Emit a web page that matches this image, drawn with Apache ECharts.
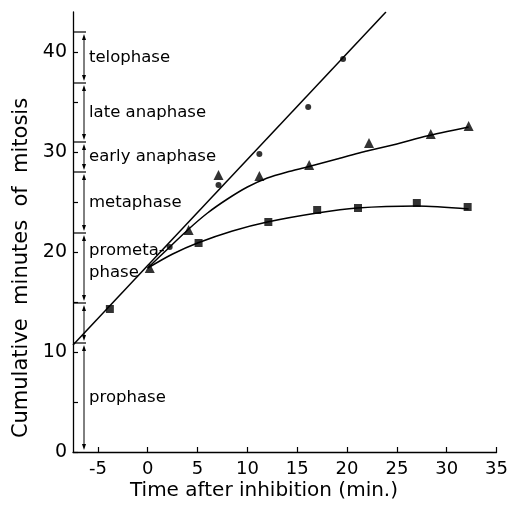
<!DOCTYPE html>
<html>
<head>
<meta charset="utf-8">
<script src="https://cdn.jsdelivr.net/npm/echarts@6/dist/echarts.min.js"></script>
<style>
  html, body { margin: 0; padding: 0; background: #fff; }
  #chart { width: 511px; height: 506px; }
</style>
</head>
<body>
<div id="chart"></div>
<script>
// measured points
const circlePts = [[2.2, 20.5], [7.1, 26.7], [11.2, 29.8], [16.1, 34.5], [19.6, 39.3]]
const trianglePts = [[0.2, 18.4], [4.1, 22.2], [7.1, 27.7], [11.2, 27.6], [16.2, 28.7], [22.2, 30.9], [28.4, 31.8], [32.2, 32.6]]
const squarePts = [[-3.8, 14.3], [5.1, 20.9], [12.1, 23.0], [17.0, 24.2], [21.1, 24.4], [27.0, 24.9], [32.1, 24.5]]

// drawn-by-hand fit curves
const straightFit = [[-7.5, 10.7], [23.9, 44]]
const triangleFit = [[0, 18.4], [2, 20.3], [4, 22.2], [6, 23.9], [8, 25.3], [10, 26.5], [12, 27.4], [14, 28.0], [16, 28.5], [19, 29.3], [22, 30.1], [25, 30.8], [28, 31.6], [32.2, 32.5]]
const squareFit = [[0, 18.4], [2.5, 19.8], [5, 20.9], [8.5, 22.1], [12, 23.0], [17, 23.9], [21, 24.4], [27, 24.6], [32.2, 24.3]]

// phases along the y axis
const phaseBounds = [0, 10.9, 14.9, 21.9, 28.0, 31.0, 36.9, 42.0]
const phaseNames = ['prophase', '', 'prometa-\nphase', 'metaphase', 'early anaphase', 'late anaphase', 'telophase']

const xTicks = [-5, 0, 5, 10, 15, 20, 25, 30, 35]
const yTicks = [0, 5, 10, 15, 20, 25, 30, 35, 40]
const yLabels = [0, 10, 20, 30, 40]

const phaseData = phaseNames.map((n, i) => [phaseBounds[i], phaseBounds[i + 1], n])

const font = 'DejaVu Sans'
const black = '#000'

const chart = echarts.init(document.getElementById('chart'))

function renderPhase(params, api) {
  const from = api.value(0)
  const to = api.value(1)
  const name = phaseData[params.dataIndex][2]
  const p0 = api.coord([-7.5, from])
  const p1 = api.coord([-7.5, to])
  const ax = p0[0] + 11
  const top = p1[1] + 2
  const bot = p0[1] - 2
  const children = [
    // bracket at upper bound
    { type: 'line', shape: { x1: p1[0], y1: p1[1], x2: p1[0] + 13, y2: p1[1] }, style: { stroke: black, lineWidth: 1.2 } },
    { type: 'line', shape: { x1: ax, y1: top + 3, x2: ax, y2: bot - 3 }, style: { stroke: black, lineWidth: 1 } },
    { type: 'polygon', shape: { points: [[ax, top], [ax - 2, top + 6], [ax + 2, top + 6]] }, style: { fill: black } },
    { type: 'polygon', shape: { points: [[ax, bot], [ax - 2, bot - 6], [ax + 2, bot - 6]] }, style: { fill: black } }
  ]
  if (name) {
    children.push({
      type: 'text',
      style: {
        x: p0[0] + 16, y: (p0[1] + p1[1]) / 2 - (name.indexOf('\n') > -1 ? 6 : 0),
        text: name, fill: black, font: '16.5px "' + font + '"',
        verticalAlign: 'middle', align: 'left', lineHeight: 22
      }
    })
  }
  return { type: 'group', children }
}

chart.setOption({
  animation: false,
  backgroundColor: '#fff',
  grid: { left: 73, right: 11, top: 12, bottom: 54 },
  xAxis: {
    type: 'value',
    min: -7.5,
    max: 35,
    splitLine: { show: false },
    axisLine: { onZero: false, lineStyle: { color: black, width: 1.3 } },
    axisTick: { inside: true, length: 5, customValues: xTicks, lineStyle: { color: black, width: 1.2 } },
    axisLabel: { customValues: xTicks, color: black, fontSize: 18, fontFamily: font, margin: 8 }
  },
  yAxis: {
    type: 'value',
    min: 0,
    max: 44,
    splitLine: { show: false },
    axisLine: { show: true, onZero: false, lineStyle: { color: black, width: 1.3 } },
    axisTick: { show: true, inside: true, length: 5, customValues: yTicks, lineStyle: { color: black, width: 1.2 } },
    axisLabel: { customValues: yLabels, color: black, fontSize: 19, fontFamily: font, margin: 6 }
  },
  graphic: [
    {
      type: 'text', x: 264, y: 491,
      style: { text: 'Time after inhibition (min.)', fill: black, font: '20px "' + font + '"', align: 'center', verticalAlign: 'middle' }
    },
    {
      type: 'text', x: 22, y: 268, rotation: Math.PI / 2,
      style: { text: 'Cumulative  minutes  of  mitosis', fill: black, font: '21px "' + font + '"', align: 'center', verticalAlign: 'middle' }
    }
  ],
  series: [
    {
      type: 'line', data: straightFit, showSymbol: false, silent: true,
      lineStyle: { color: black, width: 1.5 }
    },
    {
      type: 'line', data: triangleFit, smooth: 0.2, showSymbol: false, silent: true,
      lineStyle: { color: black, width: 1.5 }
    },
    {
      type: 'line', data: squareFit, smooth: 0.3, showSymbol: false, silent: true,
      lineStyle: { color: black, width: 1.5 }
    },
    { type: 'scatter', data: circlePts, symbol: 'circle', symbolSize: 6, itemStyle: { color: black } },
    { type: 'scatter', data: trianglePts, symbol: 'triangle', symbolSize: 10, itemStyle: { color: black } },
    { type: 'scatter', data: squarePts, symbol: 'rect', symbolSize: 8, itemStyle: { color: black } },
    {
      type: 'custom', data: phaseData, renderItem: renderPhase, silent: true,
      encode: { x: -1, y: [0, 1] }, clip: false
    }
  ]
})
</script>
</body>
</html>
